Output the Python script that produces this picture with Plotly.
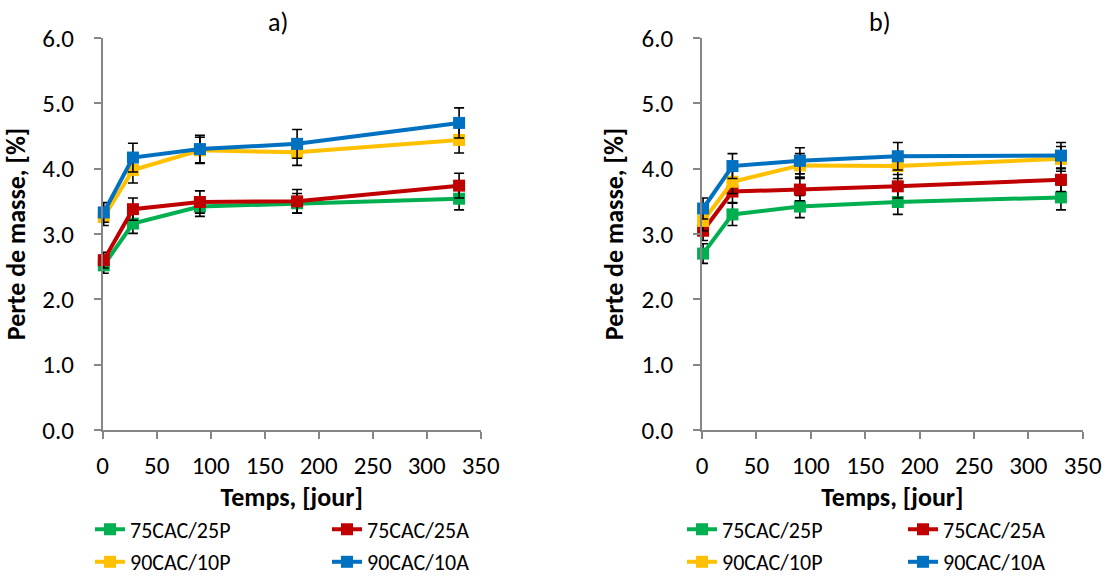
import plotly.graph_objects as go

days = [1, 28, 90, 180, 330]
series_names = ["75CAC/25P", "75CAC/25A", "90CAC/10P", "90CAC/10A"]
colors = ["#00B050", "#C00000", "#FFC000", "#0070C0"]

# Panel a)
a_75P = [2.52, 3.16, 3.42, 3.47, 3.54]
a_75A = [2.60, 3.38, 3.49, 3.50, 3.74]
a_90P = [3.26, 3.98, 4.28, 4.25, 4.44]
a_90A = [3.33, 4.17, 4.30, 4.38, 4.70]
a_err_75P = [0.12, 0.15, 0.15, 0.15, 0.17]
a_err_75A = [0.12, 0.17, 0.17, 0.18, 0.19]
a_err_90P = [0.13, 0.20, 0.20, 0.20, 0.20]
a_err_90A = [0.15, 0.22, 0.21, 0.22, 0.23]

# Panel b)
b_75P = [2.70, 3.30, 3.42, 3.49, 3.56]
b_75A = [3.05, 3.65, 3.68, 3.73, 3.83]
b_90P = [3.20, 3.80, 4.05, 4.04, 4.15]
b_90A = [3.39, 4.04, 4.12, 4.19, 4.20]
b_err_75P = [0.15, 0.17, 0.17, 0.19, 0.19]
b_err_75A = [0.15, 0.17, 0.17, 0.18, 0.18]
b_err_90P = [0.15, 0.18, 0.18, 0.19, 0.19]
b_err_90A = [0.16, 0.19, 0.20, 0.21, 0.20]

y_ticks = [0, 1, 2, 3, 4, 5, 6]
x_ticks = [0, 50, 100, 150, 200, 250, 300, 350]

FONT = "Carlito, Lato, sans-serif"
# figure a little taller than the window so the lower legend row's padding can sit below the fold
W, H = 1110, 590


def px(xp):
    return xp / W


def py(yp):
    return 1 - yp / H


# legend item origins (window pixels)
legend_x = [90, 327, 90, 327, 682, 903, 682, 903]
legend_y = [529.5, 529.5, 562, 562, 529.5, 529.5, 562, 562]

fig = go.Figure()

panels = [
    ("x", "y", [a_75P, a_75A, a_90P, a_90A], [a_err_75P, a_err_75A, a_err_90P, a_err_90A]),
    ("x2", "y2", [b_75P, b_75A, b_90P, b_90A], [b_err_75P, b_err_75A, b_err_90P, b_err_90A]),
]

k = 0
for xa, ya, vals, errs in panels:
    for name, col, v, e in zip(series_names, colors, vals, errs):
        lg = "legend" if k == 0 else f"legend{k + 1}"
        fig.add_trace(go.Scatter(
            x=days, y=v, name=name, xaxis=xa, yaxis=ya, legend=lg,
            mode="lines+markers",
            line=dict(color=col, width=4),
            marker=dict(symbol="square", size=12, color=col),
            error_y=dict(type="data", array=e, visible=True, color="black", thickness=1.6, width=5),
            cliponaxis=False,
        ))
        k += 1

axis_common = dict(
    showgrid=False, zeroline=False, showline=True, linecolor="#868686", linewidth=1.5,
    ticks="outside", ticklen=7, tickcolor="#868686", tickwidth=1.5,
    tickfont=dict(family=FONT, size=25, color="black"),
    automargin=False,
)

TITLE_FONT = dict(family=FONT, size=26, color="black")
ydom = [py(430), py(38)]
fig.update_layout(
    width=W, height=H,
    margin=dict(l=0, r=0, t=0, b=0),
    paper_bgcolor="white", plot_bgcolor="white",
    font=dict(family=FONT, color="black"),
    showlegend=True,
    hovermode=False,
    xaxis=dict(domain=[px(102.7), px(480.7)], anchor="y", range=[0, 350], tickvals=x_ticks,
               ticklabelstandoff=5,
               title=dict(text="<b>Temps, [jour]</b>", font=TITLE_FONT, standoff=0), **axis_common),
    yaxis=dict(domain=ydom, anchor="x", range=[0, 6], tickvals=y_ticks, tickformat=".1f",
               ticklabelstandoff=15,
               title=dict(text="<b>Perte de masse, [%]</b>", font=TITLE_FONT, standoff=10), **axis_common),
    xaxis2=dict(domain=[px(702), px(1082.7)], anchor="y2", range=[0, 350], tickvals=x_ticks,
                ticklabelstandoff=5,
                title=dict(text="<b>Temps, [jour]</b>", font=TITLE_FONT, standoff=0), **axis_common),
    yaxis2=dict(domain=ydom, anchor="x2", range=[0, 6], tickvals=y_ticks, tickformat=".1f",
                ticklabelstandoff=15,
                title=dict(text="<b>Perte de masse, [%]</b>", font=TITLE_FONT, standoff=10), **axis_common),
)

leg_common = dict(orientation="h", xanchor="left", yanchor="middle", bgcolor="rgba(0,0,0,0)",
                  font=dict(family=FONT, size=22, color="black"),
                  itemwidth=30, tracegroupgap=0)
legend_layout = {}
for i, (lx, ly) in enumerate(zip(legend_x, legend_y)):
    key = "legend" if i == 0 else f"legend{i + 1}"
    legend_layout[key] = dict(x=px(lx), y=py(ly), **leg_common)
fig.update_layout(**legend_layout)

fig.add_annotation(text="a)", x=px(277.5), y=py(22), xref="paper", yref="paper", showarrow=False,
                   font=dict(family=FONT, size=26, color="black"), xanchor="center", yanchor="middle")
fig.add_annotation(text="b)", x=px(880), y=py(22), xref="paper", yref="paper", showarrow=False,
                   font=dict(family=FONT, size=26, color="black"), xanchor="center", yanchor="middle")

# remove the default 8px page margin so the figure starts at the window's corner
fig.write_html("out.html", config={"displayModeBar": False},
               post_script="document.body.style.margin='0';")
